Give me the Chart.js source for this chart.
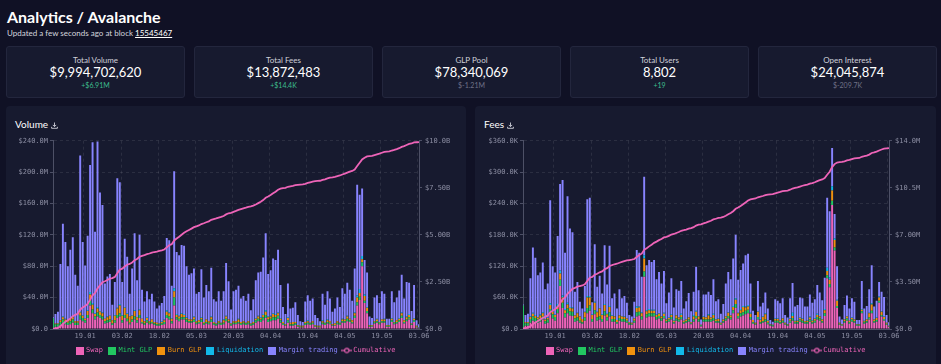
<!DOCTYPE html>
<html><head><meta charset="utf-8">
<script src="https://cdn.jsdelivr.net/npm/chart.js@4.4.0/dist/chart.umd.min.js"></script>
<style>
html,body{margin:0;padding:0;width:941px;height:364px;overflow:hidden;background:#101125;color:#fff;font-family:Lato,"Open Sans",sans-serif}
#title{position:absolute;left:7px;top:8px;font-size:16px;font-weight:700;line-height:18px;white-space:nowrap}
#sub{position:absolute;left:7px;top:28px;font-size:8px;line-height:10px;color:#d4d5de;white-space:nowrap}
#sub u{color:#fff}
.card{position:absolute;top:46px;width:179px;height:52px;background:#171a2f;border:1px solid #23263d;box-sizing:border-box;border-radius:3px;text-align:center}
.card .l{position:absolute;left:0;right:0;top:8px;font-size:8px;line-height:10px;color:#d0d1da}
.card .v{position:absolute;left:0;right:0;top:17px;font-size:13px;line-height:16px;color:#fff}
.card .d{position:absolute;left:0;right:0;top:34px;font-size:7px;line-height:9px}
.up{color:#3dbd8e}.dn{color:#6f7287}
.panel{position:absolute;top:106px;height:270px;background:#171a2f;border-radius:4px}
.ptitle{position:absolute;left:9px;top:12px;font-size:10px;line-height:12px;color:#fff;white-space:nowrap}
.ptitle svg{vertical-align:-1px;margin-left:3px}
canvas{position:absolute}
</style></head>
<body>
<div id="title">Analytics / Avalanche</div>
<div id="sub">Updated a few seconds ago at block <u>15545467</u></div>

<div class="card" style="left:6px"><div class="l">Total Volume</div><div class="v">$9,994,702,620</div><div class="d up">+$6.91M</div></div>
<div class="card" style="left:194px"><div class="l">Total Fees</div><div class="v">$13,872,483</div><div class="d up">+$14.4K</div></div>
<div class="card" style="left:382px"><div class="l">GLP Pool</div><div class="v">$78,340,069</div><div class="d dn">$-1.21M</div></div>
<div class="card" style="left:570px"><div class="l">Total Users</div><div class="v">8,802</div><div class="d up">+19</div></div>
<div class="card" style="left:758px"><div class="l">Open Interest</div><div class="v">$24,045,874</div><div class="d dn">$-209.7K</div></div>

<div class="panel" style="left:6px;width:460px"><div class="ptitle">Volume<svg width="7" height="7" viewBox="0 0 7 7"><path d="M3.5 0.5V4.5M1.8 2.9L3.5 4.6L5.2 2.9M0.6 4.8V6.3H6.4V4.8" stroke="#cfd0da" stroke-width="0.9" fill="none"/></svg></div></div>
<div class="panel" style="left:475px;width:461px"><div class="ptitle">Fees<svg width="7" height="7" viewBox="0 0 7 7"><path d="M3.5 0.5V4.5M1.8 2.9L3.5 4.6L5.2 2.9M0.6 4.8V6.3H6.4V4.8" stroke="#cfd0da" stroke-width="0.9" fill="none"/></svg></div></div>

<canvas id="cvVol" width="460" height="234" style="left:6px;top:130px"></canvas>
<canvas id="cvFee" width="460" height="234" style="left:476px;top:130px"></canvas>

<script>
// ---------- categories ----------
const firstDay = [2022, 0, 6];
const dayCount = 149;
const dates = [];
for (let i = 0; i < dayCount; i++) {
  const d = new Date(Date.UTC(firstDay[0], firstDay[1], firstDay[2] + i));
  dates.push(String(d.getUTCDate()).padStart(2, '0') + '.' + String(d.getUTCMonth() + 1).padStart(2, '0'));
}
const xTickLabels = ['19.01','03.02','18.02','05.03','20.03','04.04','19.04','04.05','19.05','03.06'];

// ---------- tick labels ----------
const volLeftTicks  = ['$0.0','$40.0M','$80.0M','$120.0M','$160.0M','$200.0M','$240.0M'];
const volRightTicks = ['$0.0','$2.50B','$5.00B','$7.50B','$10.0B'];
const feeLeftTicks  = ['$0.0','$60.0K','$120.0K','$180.0K','$240.0K','$300.0K','$360.0K'];
const feeRightTicks = ['$0.0','$3.50M','$7.00M','$10.5M','$14.0M'];

// ---------- Volume (millions USD per day) ----------
const swapV = [1,3,3,5,7,6,5,6,8,5, 5,12,10,8,14,30,20,12,16,14, 12,7,8,9,5,8,14,16,8,14, 10,6,9,12,8,14,7,5,8,6, 7,5,4,4,5,6,14,12,7,30, 12,10,12,12,9,8,8,9,6,7, 9,5,7,6,9,5,4,6,5,6, 10,8,4,6,6,7,5,6,5,6, 4,5,8,10,9,11,14,9,10,11, 11,13,8,5,4,8,4,4,5,3, 2,2,5,6,5,6,3,2,2,6, 5,7,6,4,4,6,5,8,8,10, 9,7,14,30,37,80,33,20,3,3, 7,8,6,8,8,3,3,9,6,7, 9,14,7,10,12,5,9,2,1];
const mintV = [13,3,3,4,5,4,3,4,4,3, 3,5,4,3,4,6,5,4,5,4, 4,3,3,3,2,3,4,4,3,4, 3,2,3,4,3,4,2,2,3,2, 2,2,2,2,2,3,4,4,3,10, 3,3,3,3,3,2,2,3,2,2, 3,2,2,2,3,2,2,2,2,2, 3,2,2,2,2,2,2,2,2,2, 2,2,3,3,3,4,4,3,3,4, 4,4,3,2,1,3,2,2,2,1, 1,1,2,2,2,2,1,1,1,2, 2,2,2,1,1,2,2,2,2,3, 2,2,3,4,4,5,3,3,1,1, 2,2,2,2,2,1,1,2,2,2, 2,3,2,2,3,1,2,1,1];
const burnV = [0,1,1,2,3,2,2,3,3,2, 2,4,3,2,5,8,6,3,5,4, 4,3,4,5,4,6,8,10,6,9, 6,8,5,7,4,6,4,3,3,2, 3,2,2,1,2,2,4,4,3,8, 3,3,4,3,2,2,2,3,2,2, 2,2,3,2,3,2,1,2,1,3, 3,2,1,2,2,3,2,2,1,2, 1,2,2,3,2,3,4,3,3,4, 3,3,2,2,1,3,2,3,2,1, 1,1,2,2,1,2,1,1,1,2, 1,2,2,1,2,2,1,2,2,3, 2,2,3,6,5,4,6,4,1,1, 1,2,1,2,2,1,1,2,1,2, 2,3,2,3,3,1,2,1,0];
const liqV  = [0,0,0,0,1,1,0,1,1,0, 0,1,1,0,1,3,2,1,2,1, 1,0,1,0,0,1,1,2,1,1, 1,0,1,1,0,1,0,0,1,0, 0,0,0,0,1,1,2,1,1,4, 1,1,1,1,1,0,0,1,0,0, 1,0,0,0,1,0,0,0,0,1, 1,0,0,0,0,1,0,0,0,0, 0,0,1,1,1,1,2,1,1,1, 1,1,1,0,0,1,0,0,0,0, 0,0,0,1,0,0,0,0,0,1, 0,1,0,0,0,0,0,1,0,1, 0,0,1,3,5,4,2,1,0,0, 0,1,0,0,1,0,0,1,0,0, 1,1,0,1,1,0,1,0,0];
const marginV = [1,12,15,72,118,98,70,87,101,59, 45,199,93,68,95,162,205,104,211,151, 137,45,51,53,20,42,165,155,42,87, 72,29,59,98,47,95,37,25,33,28, 33,26,18,23,23,30,92,92,41,149, 79,77,87,87,65,57,59,61,35,36, 61,31,44,38,62,29,28,38,28,36, 67,49,18,38,40,42,30,32,28,35, 17,29,48,55,58,72,98,54,58,70, 69,80,42,19,13,43,18,18,25,13, 6,5,26,32,28,29,13,10,6,34, 23,36,29,16,19,30,20,39,33,42, 37,25,56,141,120,86,44,44,11,9, 30,30,24,36,32,8,8,34,25,29, 35,48,28,44,40,16,42,7,4];

// ---------- Fees (thousands USD per day) ----------
const swapF = [1,6,6,12,16,14,12,14,18,10, 12,28,20,16,30,82,40,22,30,26, 25,14,16,12,10,16,30,35,14,28, 16,18,14,26,16,24,14,14,10,16, 14,14,12,8,8,12,24,26,18,100, 22,24,24,24,18,20,16,20,12,14, 18,10,16,14,18,10,12,14,9,14, 20,14,5,14,14,14,14,16,12,12, 8,12,16,20,18,30,40,20,24,26, 28,30,18,10,8,18,10,12,14,9, 6,5,12,12,10,12,8,6,12,16, 10,10,14,12,10,10,14,10,12,18, 16,12,25,97,80,237,150,40,8,6, 12,16,10,14,12,6,6,30,10,12, 18,30,12,14,50,24,16,8,4];
const mintF = [44,5,5,7,8,7,6,7,7,5, 6,10,8,7,8,12,10,8,9,8, 8,6,6,4,3,6,10,10,5,8, 6,6,5,8,6,8,5,5,3,5, 5,5,4,3,2,4,8,7,6,10, 6,6,6,6,5,5,4,5,3,4, 5,3,4,4,5,3,3,4,2,4, 5,4,2,4,4,4,4,5,3,3, 2,3,4,5,4,6,8,5,6,6, 7,7,5,3,2,5,3,3,4,3, 2,2,4,4,3,4,2,2,4,5, 3,3,4,4,3,3,4,3,4,5, 4,3,5,6,6,8,6,4,2,2, 3,4,3,4,3,2,2,4,3,3, 4,5,3,3,4,3,3,2,1];
const burnF = [0,2,2,4,5,4,4,5,5,3, 3,8,5,4,6,12,10,6,8,6, 6,6,8,8,6,10,20,15,8,14, 10,15,8,12,6,10,6,5,4,5, 5,4,4,2,2,4,8,8,6,25, 6,6,5,5,4,4,4,4,3,3, 4,3,6,4,4,3,3,4,2,6, 8,6,1,5,4,8,4,6,3,4, 2,3,4,6,4,6,8,5,6,10, 6,6,6,4,2,10,4,8,10,4, 1,1,3,3,3,4,2,1,3,4, 2,3,3,3,2,3,4,3,3,4, 4,3,6,8,8,20,14,10,2,1, 3,4,3,3,3,1,1,3,2,3, 8,12,3,4,6,6,4,2,1];
const liqF  = [0,0,0,1,2,2,1,2,2,1, 1,3,2,1,4,6,4,2,3,2, 2,1,1,1,0,1,3,3,1,2, 1,1,1,2,1,2,1,1,0,1, 1,1,1,0,0,1,3,2,2,6, 2,2,2,2,1,1,1,2,1,1, 1,1,1,1,2,0,1,1,0,3, 2,1,0,1,1,2,1,2,1,1, 0,1,1,1,1,2,3,1,2,2, 2,3,2,0,0,1,1,1,2,1, 0,0,1,1,1,1,0,0,1,6, 1,1,1,1,0,1,2,1,1,2, 1,1,2,6,5,8,3,2,0,0, 1,1,0,1,1,0,0,1,1,1, 1,2,1,1,2,1,1,0,0];
const marginF = [2,14,16,73,125,109,80,80,95,57, 65,197,85,80,130,165,221,108,204,150, 144,44,59,27,20,49,185,188,23,110, 48,62,40,112,56,115,33,43,22,49, 34,39,29,14,12,31,108,103,68,150, 86,94,91,95,67,79,62,80,30,48, 69,24,49,50,63,23,34,46,21,44, 84,49,10,42,43,43,42,66,34,37, 17,29,62,77,68,91,121,63,75,81, 98,98,56,18,15,58,25,26,40,22, 8,6,37,34,32,38,15,13,39,57, 27,29,38,39,28,26,42,33,37,55, 45,36,60,134,126,73,47,64,12,9, 27,39,23,37,33,8,8,54,23,25, 45,73,24,32,28,37,37,15,7];

// ---------- styling ----------
const COLORS = {swap:'#ee64b8', mint:'#22c761', burn:'#f0910e', liq:'#12b9ea', margin:'#8884ff', cum:'#ee64b8'};
const MONO = '"DejaVu Sans Mono", "Liberation Mono", monospace';
const TICK_COLOR = '#8c8ea3';
const AXIS_COLOR = '#4d5066';
const GRID_COLOR = 'rgba(255,255,255,0.09)';
const PANEL_BG = '#171a2f';

function boxIcon(color) {
  const c = document.createElement('canvas'); c.width = 8; c.height = 8;
  const g = c.getContext('2d'); g.fillStyle = color; g.fillRect(0, 0, 8, 8); return c;
}
function lineIcon(color) {
  const c = document.createElement('canvas'); c.width = 11; c.height = 8;
  const g = c.getContext('2d');
  g.strokeStyle = color; g.lineWidth = 1.2;
  g.beginPath(); g.moveTo(0, 4); g.lineTo(11, 4); g.stroke();
  g.fillStyle = PANEL_BG; g.beginPath(); g.arc(5.5, 4, 2.2, 0, Math.PI * 2); g.fill(); g.stroke();
  return c;
}

function runningTotal(parts) {
  const out = []; let s = 0;
  for (let i = 0; i < parts[0].length; i++) { for (const p of parts) s += p[i]; out.push(s); }
  return out;
}

function makeChart(id, series, leftMax, leftStep, leftTicks, rightMax, rightStep, rightTicks) {
  const cum = runningTotal(series);
  const names = ['Swap','Mint GLP','Burn GLP','Liquidation','Margin trading'];
  const cols = [COLORS.swap, COLORS.mint, COLORS.burn, COLORS.liq, COLORS.margin];
  const datasets = series.map((arr, k) => ({
    type: 'bar', label: names[k], data: arr, backgroundColor: cols[k], borderWidth: 0,
    stack: 's', yAxisID: 'y', order: 1, barPercentage: 0.78, categoryPercentage: 1
  }));
  datasets.push({type:'line', label:'Cumulative', data: cum, borderColor: COLORS.cum, borderWidth: 1.8,
    pointRadius: 0, tension: 0, yAxisID: 'y1', order: 0, fill: false});
  const icons = cols.map(boxIcon).concat([lineIcon(COLORS.cum)]);
  const showX = i => xTickLabels.includes(dates[i]);
  return new Chart(document.getElementById(id), {
    data: {labels: dates, datasets},
    options: {
      responsive: false, animation: false, devicePixelRatio: 1, events: [],
      layout: {padding: {left: 0, right: 0, top: 10.7, bottom: 0}},
      plugins: {
        tooltip: {enabled: false},
        legend: {
          position: 'bottom',
          labels: {
            usePointStyle: true, pointStyleWidth: 6, boxHeight: 7, padding: 6,
            font: {family: MONO, size: 7},
            generateLabels: ch => ch.data.datasets.map((ds, i) => ({
              text: ds.label, fontColor: i < 5 ? cols[i] : COLORS.cum, pointStyle: icons[i],
              datasetIndex: i, hidden: false, lineWidth: 0, strokeStyle: 'transparent', fillStyle: 'transparent'
            }))
          }
        }
      },
      scales: {
        x: {
          type: 'category', offset: false, stacked: true,
          grid: {color: c => showX(c.index) ? GRID_COLOR : 'transparent', drawTicks: false},
          border: {color: AXIS_COLOR, dash: [3, 3]},
          ticks: {autoSkip: false, maxRotation: 0, minRotation: 0, padding: 3,
            font: {family: MONO, size: 7}, color: TICK_COLOR,
            callback: (v, i) => showX(i) ? dates[i] : ''},
          afterFit: s => { s.height = 12; }
        },
        y: {
          position: 'left', stacked: true, min: 0, max: leftMax,
          grid: {color: GRID_COLOR, tickColor: AXIS_COLOR, tickLength: 3, tickBorderDash: []},
          border: {color: AXIS_COLOR, dash: [3, 3]},
          ticks: {stepSize: leftStep, padding: 2, font: {family: MONO, size: 7}, color: TICK_COLOR,
            callback: (v, i) => leftTicks[i]},
          afterFit: s => { s.width = 47; }
        },
        y1: {
          position: 'right', min: 0, max: rightMax,
          grid: {drawOnChartArea: false, color: AXIS_COLOR, tickColor: AXIS_COLOR, tickLength: 3},
          border: {color: AXIS_COLOR},
          ticks: {stepSize: rightStep, padding: 3, font: {family: MONO, size: 7}, color: TICK_COLOR,
            callback: (v, i) => rightTicks[i]},
          afterFit: s => { s.width = 47; }
        }
      }
    }
  });
}

makeChart('cvVol', [swapV, mintV, burnV, liqV, marginV], 240, 40, volLeftTicks, 10000, 2500, volRightTicks);
makeChart('cvFee', [swapF, mintF, burnF, liqF, marginF], 360, 60, feeLeftTicks, 14000, 3500, feeRightTicks);
</script>
</body></html>
